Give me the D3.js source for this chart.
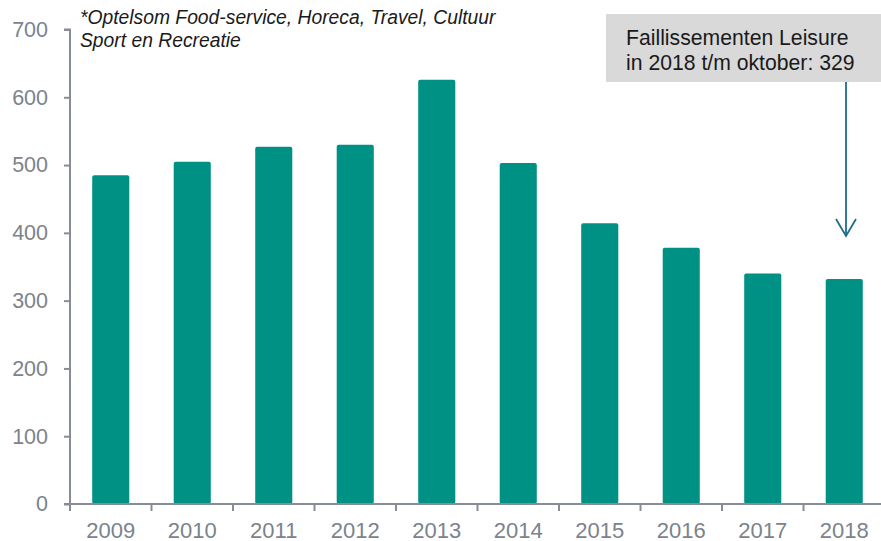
<!DOCTYPE html>
<html><head><meta charset="utf-8">
<script src="https://cdn.jsdelivr.net/npm/d3@7"></script>
<style>body{margin:0;background:#fff}svg{display:block;font-family:"Liberation Sans",Arial,sans-serif}</style>
</head><body>
<svg id="c" width="881" height="541"></svg>
<script>
const years = ["2009","2010","2011","2012","2013","2014","2015","2016","2017","2018"];
const values = [485, 505, 527, 530, 626, 503, 414, 378, 340, 332];
const yTicks = [0,100,200,300,400,500,600,700];
const noteLines = ["*Optelsom Food-service, Horeca, Travel, Cultuur","Sport en Recreatie"];
const calloutLines = ["Faillissementen Leisure","in 2018 t/m oktober: 329"];

const svg = d3.select("#c");
const axisColor = "#868d96", labelColor = "#7b838c", barColor = "#009185";
const x = d3.scaleBand().domain(years).range([70, 885]).paddingInner(0.545).paddingOuter(0.2725);
const y = d3.scaleLinear().domain([0,700]).range([504, 29.5]);

// bars
svg.append("g").selectAll("rect").data(values).join("rect")
  .attr("x",(d,i)=>x(years[i])).attr("width",x.bandwidth())
  .attr("y",d=>y(d)).attr("height",d=>y(0)-y(d))
  .attr("rx",2).attr("fill",barColor);

// y axis
const ya = svg.append("g").attr("transform","translate(70,0)")
  .call(d3.axisLeft(y).tickValues(yTicks).tickSize(6).tickPadding(16));
ya.select(".domain").attr("stroke",axisColor).attr("stroke-width",2).attr("d","M-6,"+y(700)+"H0V"+y(0));
ya.selectAll(".tick line").attr("stroke",axisColor).attr("stroke-width",2);
ya.selectAll(".tick text").attr("fill",labelColor).style("font-size","21.5px");

// x axis
const xTickPos = d3.range(years.length+1).map(i=>70+i*x.step());
const xa = svg.append("g");
xa.append("line").attr("x1",64).attr("x2",885).attr("y1",y(0)).attr("y2",y(0)).attr("stroke",axisColor).attr("stroke-width",2);
xa.selectAll("line.t").data(xTickPos).join("line").attr("class","t")
  .attr("x1",d=>d).attr("x2",d=>d).attr("y1",y(0)).attr("y2",y(0)+7).attr("stroke",axisColor).attr("stroke-width",2);
xa.selectAll("text").data(years).join("text")
  .attr("x",d=>x(d)+x.bandwidth()/2).attr("y",538).attr("text-anchor","middle")
  .attr("fill",labelColor).style("font-size","22px").text(d=>d);

// note
svg.append("g").selectAll("text").data(noteLines).join("text")
  .attr("x",80).attr("y",(d,i)=>24+i*23).attr("fill","#1a1a1a")
  .style("font-size","19.3px").style("font-style","italic").text(d=>d);

// callout
svg.append("rect").attr("x",606).attr("y",14).attr("width",275).attr("height",68).attr("fill","#d9d9d9");
svg.append("g").selectAll("text").data(calloutLines).join("text")
  .attr("x",626).attr("y",(d,i)=>45+i*25).attr("fill","#1a1a1a")
  .style("font-size","21.2px").text(d=>d);
const ax = 846;
svg.append("line").attr("x1",ax).attr("x2",ax).attr("y1",82).attr("y2",236).attr("stroke","#1f6e8a").attr("stroke-width",1.8);
svg.append("path").attr("d",`M${ax-10},219L${ax},236L${ax+10},219`).attr("fill","none").attr("stroke","#1f6e8a").attr("stroke-width",1.8);
</script>
</body></html>
